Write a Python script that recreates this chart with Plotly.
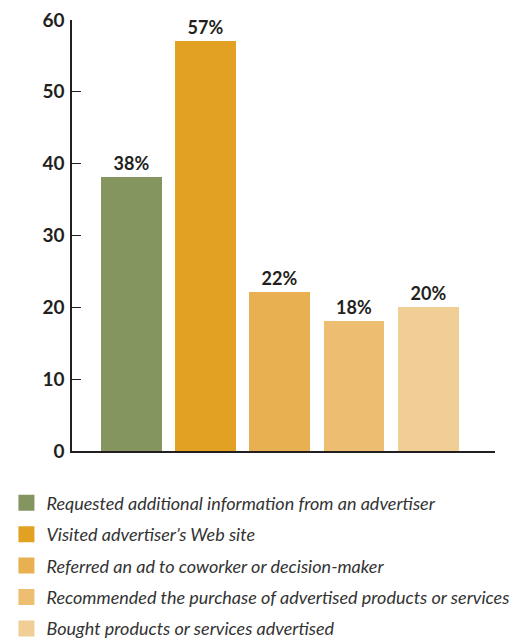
import plotly.graph_objects as go

categories = [
    "Requested additional information from an advertiser",
    "Visited advertiser’s Web site",
    "Referred an ad to coworker or decision-maker",
    "Recommended the purchase of advertised products or services",
    "Bought products or services advertised",
]
values = [38.2, 57.1, 22.2, 18.1, 20.1]
labels = ["38%", "57%", "22%", "18%", "20%"]
colors = ["#85955F", "#E3A124", "#E8B051", "#EDBE72", "#F2CE97"]
y_ticks = [0, 10, 20, 30, 40, 50, 60]

fig = go.Figure()
for i, (cat, val, lab, col) in enumerate(zip(categories, values, labels, colors)):
    fig.add_trace(go.Bar(
        x=[i], y=[val], name=cat, text=[lab],
        textposition="outside", cliponaxis=False,
        textfont=dict(family="Lato", size=18, color="#231F20", weight="bold"),
        marker=dict(color=col, line=dict(width=0)),
        width=0.82, showlegend=False,
    ))
for i, (cat, col) in enumerate(zip(categories, colors)):
    fig.add_trace(go.Scatter(
        x=[None], y=[None], mode="markers", name=cat,
        marker=dict(symbol="square", size=20, color=col),
        legendgroup=str(i),
    ))

fig.update_layout(
    width=517, height=638,
    margin=dict(l=72, r=22, t=20, b=187, autoexpand=False),
    plot_bgcolor="white", paper_bgcolor="white",
    showlegend=True,
    legend=dict(
        x=-0.155, y=-0.078, xanchor="left", yanchor="top",
        orientation="v", traceorder="grouped", tracegroupgap=5,
        font=dict(family="Lato", size=18, color="#333333", style="italic"),
        itemclick=False, itemdoubleclick=False,
    ),
    xaxis=dict(
        range=[-0.8, 4.9], showticklabels=False, ticks="",
        showgrid=False, zeroline=False, automargin=False,
        showline=True, linecolor="#231F20", linewidth=1.5,
    ),
    yaxis=dict(
        range=[0, 60], tickvals=y_ticks, ticks="inside", ticklen=9,
        tickwidth=1.2, tickcolor="#231F20", automargin=False,
        showgrid=False, zeroline=False,
        showline=True, linecolor="#231F20", linewidth=1.5,
        tickfont=dict(family="Lato", size=19, color="#231F20", weight="bold"),
        ticklabelstandoff=2,
    ),
    bargap=0,
)

fig.write_html("out.html", config={"displayModeBar": False},
               post_script="document.body.style.margin='0';")
